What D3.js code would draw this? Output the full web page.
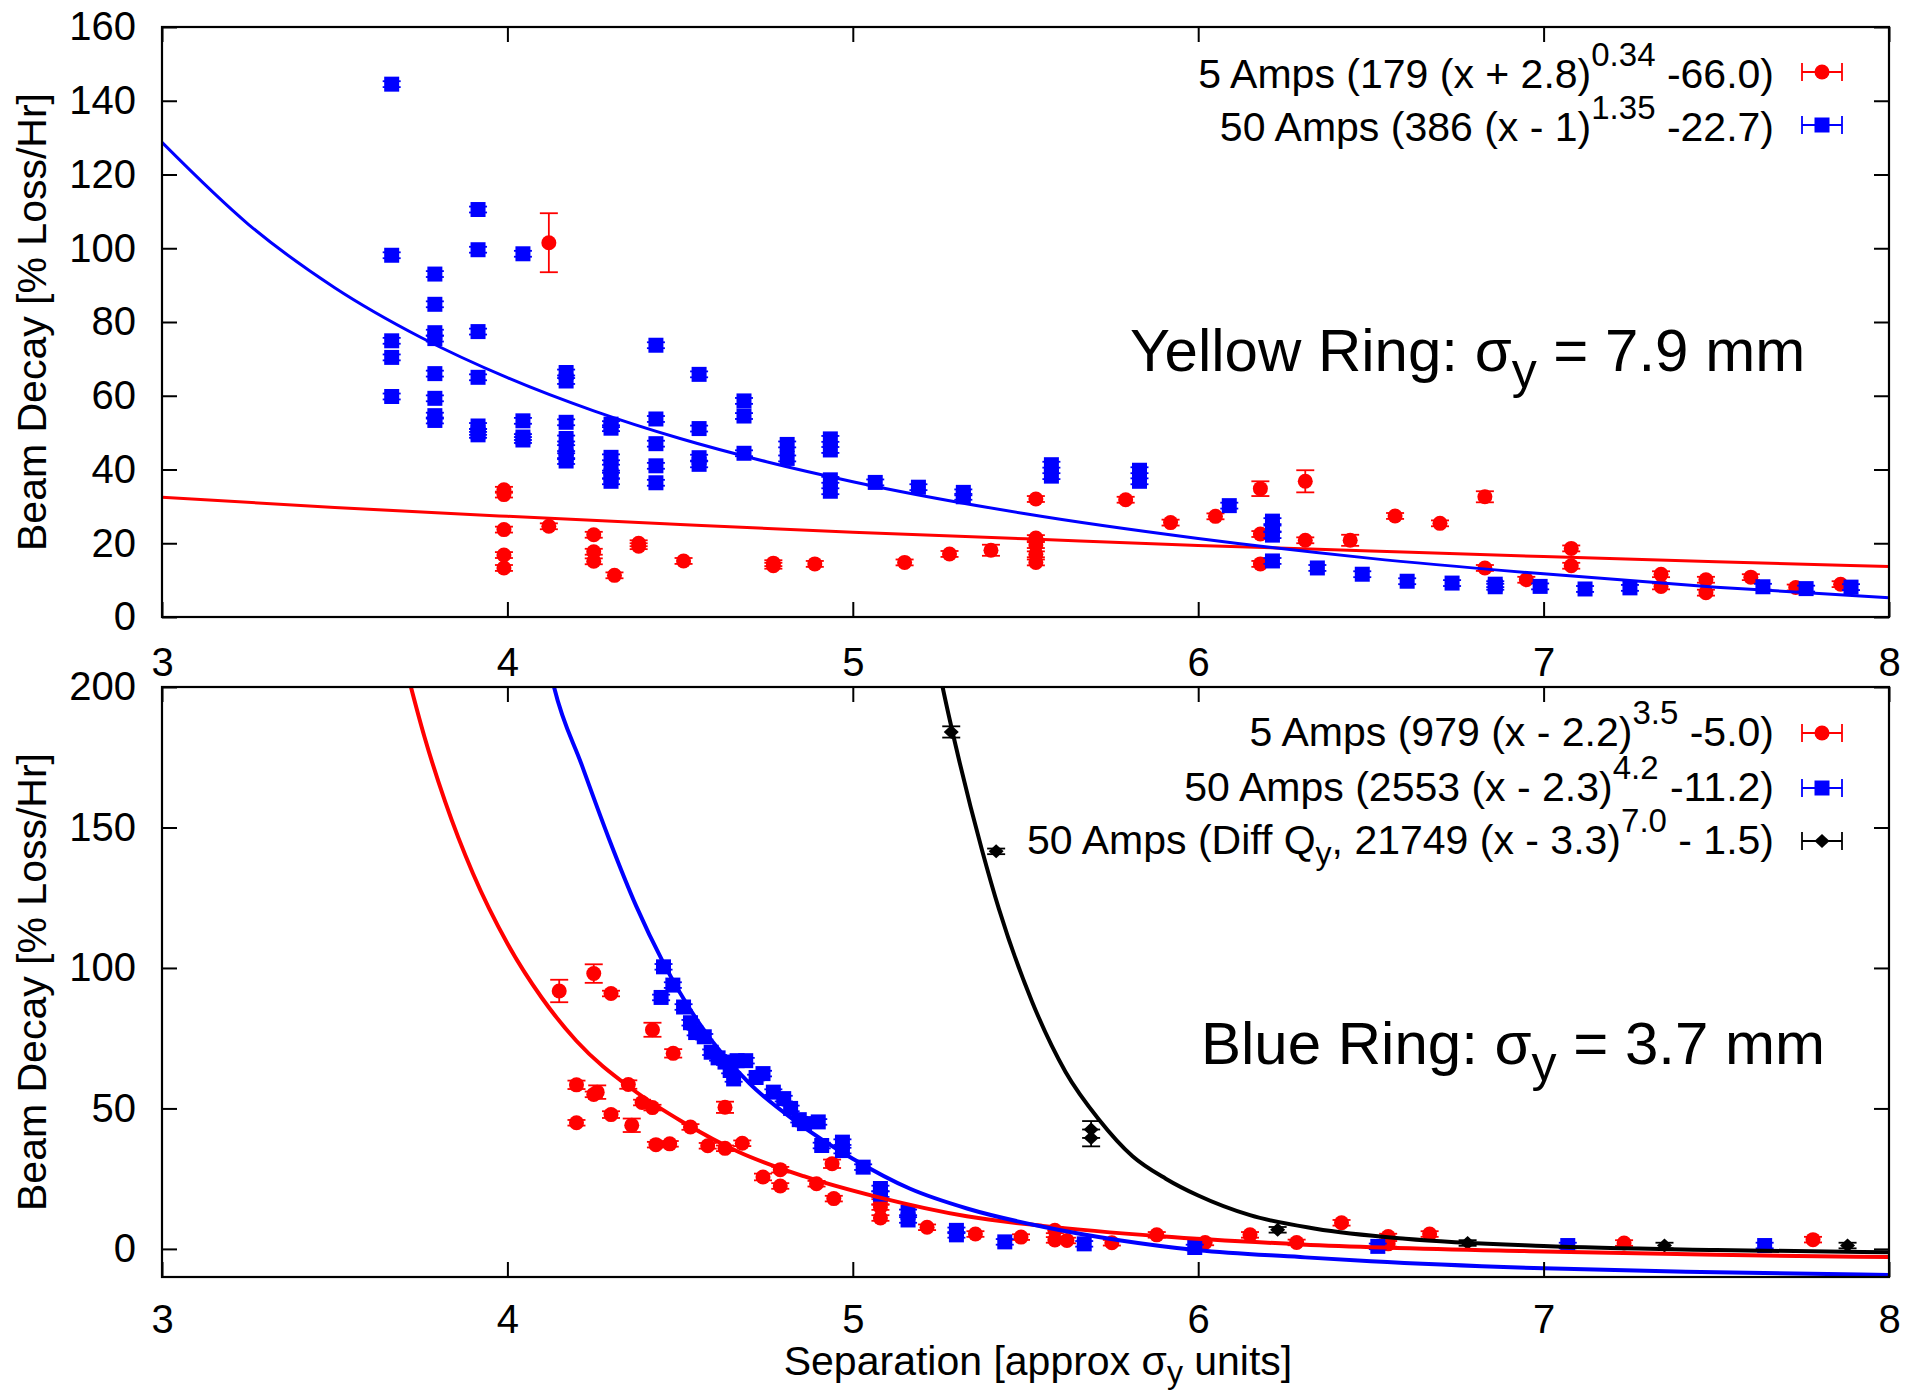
<!DOCTYPE html>
<html><head><meta charset="utf-8">
<script src="https://cdn.jsdelivr.net/npm/d3@7"></script>
<style>
body{margin:0;background:#fff}
text{font-family:"Liberation Sans",Arial,Helvetica,sans-serif;fill:#000}
</style>
</head><body>
<svg id="chart" width="1907" height="1392"></svg>
<script>
// ---------------- data ----------------
const xTicks = [3, 4, 5, 6, 7, 8];
const yTicksYellow = [0, 20, 40, 60, 80, 100, 120, 140, 160];
const yTicksBlue = [0, 50, 100, 150, 200];

// Yellow ring, 5 Amps: [separation, decay, yErr]
const yellow5A = [
  [3.99,34.5],[3.99,33.2],[3.99,23.7],[3.99,16.8],[3.99,13.3],
  [4.12,101.5,8],[4.12,24.6],
  [4.25,22.3],[4.25,17.7],[4.25,15.1],[4.31,11.3],[4.38,20.0],[4.38,19.2],
  [4.51,15.2],[4.77,14.6],[4.77,13.9],[4.89,14.4],[5.15,14.8],[5.28,17.1],[5.40,18.1,1.5],
  [5.53,32.0],[5.53,21.4],[5.53,19.5],[5.53,17.0],[5.53,14.8],
  [5.79,31.8],[5.92,25.6],[6.05,27.3],
  [6.18,34.8,2],[6.18,22.5],[6.18,14.4],[6.31,36.8,3],[6.31,20.8],[6.44,20.8,1.5],
  [6.57,27.4],[6.70,25.4],[6.83,32.6,1.5],[6.83,13.3],[6.95,10.1],
  [7.08,18.6],[7.08,13.9],[7.34,11.6],[7.34,8.3],[7.47,10.1],[7.47,6.6],
  [7.60,10.8],[7.73,8.0],[7.86,8.9]
];
// Yellow ring, 50 Amps
const yellow50A = [
  [3.665,144.5],[3.665,98.1],[3.665,74.9],[3.665,70.4],[3.665,59.8],
  [3.79,93.0],[3.79,84.8],[3.79,77.1],[3.79,75.5],[3.79,66.0],[3.79,59.3],[3.79,54.6],[3.79,53.3],
  [3.915,110.5],[3.915,99.6],[3.915,77.4],[3.915,65.0],[3.915,51.8],[3.915,50.2],[3.915,49.4],
  [4.045,98.5],[4.045,53.2],[4.045,48.8],[4.045,48.0],
  [4.17,66.3],[4.17,64.0],[4.17,52.8],[4.17,48.4],[4.17,45.8],[4.17,43.6],[4.17,42.3],
  [4.30,52.3],[4.30,51.2],[4.30,43.3],[4.30,40.5],[4.30,38.3],[4.30,36.8],
  [4.43,73.7],[4.43,53.7],[4.43,47.0],[4.43,41.0],[4.43,36.4],
  [4.555,65.8],[4.555,51.1],[4.555,43.2],[4.555,41.4],
  [4.685,58.6],[4.685,54.5],[4.685,44.4],[4.81,46.8],[4.81,43.0],
  [4.935,48.3],[4.935,45.3],[4.935,37.2],[4.935,34.1],
  [5.065,36.5],[5.19,35.2],[5.32,33.8],[5.32,32.6],
  [5.575,41.3],[5.575,38.2],[5.83,39.8],[5.83,36.8],
  [6.09,30.2],[6.215,26.0],[6.215,24.0],[6.215,22.2],[6.215,15.2],
  [6.345,13.3],[6.475,11.6],[6.605,9.7],[6.735,9.2],[6.86,8.9],[6.86,8.2],
  [6.99,8.3],[7.12,7.6],[7.25,7.9],[7.635,8.2],[7.76,7.7],[7.89,8.1]
];
// Yellow ring fit curves
const yellowFit5A = [[3,32.5],[3.5,29.7],[4,27.3],[4.5,25.1],[5,23.0],[5.5,21.2],[6,19.4],[6.5,17.9],[7,16.4],[7.5,15.0],[8,13.7]];
const yellowFit50A = [[3,128.7],[3.25,106.5],[3.5,89.3],[3.75,75.8],[4,64.9],[4.25,55.9],[4.5,48.4],[4.75,42.1],[5,36.7],[5.5,28.0],[6,21.3],[6.5,15.9],[7,11.7],[7.5,8.1],[8,5.2]];

// Blue ring, 5 Amps
const blue5A = [
  [4.15,91.8,4],[4.20,58.4,1.5],[4.20,44.9],[4.25,98.0,3.3],[4.26,55.8,2.4],[4.25,55.0],
  [4.30,90.9],[4.30,47.8,1.2],[4.35,58.5,1.5],[4.36,44.0,2.4],[4.39,52.1],[4.42,78.0,2.5],
  [4.42,50.3],[4.43,37.1],[4.47,37.4],[4.48,69.6,1.5],[4.53,43.4],[4.58,36.7],[4.63,50.4,2],
  [4.63,35.8],[4.68,37.6],[4.74,25.6,1.2],[4.79,28.2],[4.79,22.4],[4.895,23.2],[4.94,30.3,1.5],
  [4.945,17.9],[5.08,16.7],[5.08,14.9],[5.08,11.0],[5.215,7.7],[5.355,5.3],[5.487,4.2],
  [5.585,6.6],[5.585,3.2],[5.62,3.0],[5.75,2.2],[5.88,5.0],[6.02,2.3],[6.15,5.0],[6.285,2.3],
  [6.415,9.3],[6.55,4.4],[6.55,1.8],[6.67,5.3],[7.233,2.1],[7.78,3.3]
];
// Blue ring, 50 Amps
const blue50A = [
  [4.445,89.5],[4.452,100.4],[4.479,93.9],[4.51,86.1],[4.53,80.5],[4.545,77.0],[4.57,75.5],
  [4.59,70.0],[4.61,68.0],[4.63,66.5],[4.645,63.5],[4.655,60.5],[4.665,67.0],[4.69,67.0],
  [4.72,61.0],[4.74,62.4],[4.77,55.8],[4.80,53.5],[4.82,50.0],[4.845,46.0],[4.86,44.6],
  [4.90,45.2],[4.91,36.8],[4.97,38.0],[4.97,35.0],[5.03,29.1],[5.08,21.5],[5.08,19.5],
  [5.16,13.0],[5.16,10.3],[5.30,6.6],[5.30,5.0],[5.44,2.5],[5.67,1.8],[5.99,0.5],
  [6.52,0.9],[7.07,1.2],[7.64,1.2]
];
// Blue ring, 50 Amps, different Qy
const blueDiffQ = [
  [5.285,184.0,2],[5.415,141.5],[5.69,42.5,3],[5.69,39.5,3],[6.23,6.8],[6.78,2.1],[7.35,1.2],[7.88,1.2]
];
// Blue ring fit curves
const blueFit5A = [[3.70,209.8],[3.76,182.2],[3.82,159.1],[3.90,133.7],[4.00,108.7],[4.10,89.3],[4.20,74.0],[4.36,57.0],[4.51,45.0],[4.67,34.5],[4.86,25.8],[5.07,18.5],[5.33,11.6],[5.55,8.2],[5.89,4.5],[6.30,1.6],[7.00,-0.9],[7.50,-2.1],[8.00,-2.9]];
const blueFit50A = [[4.12,208],[4.135,200],[4.216,172],[4.294,146],[4.373,122],[4.451,102],[4.557,80],[4.70,59],[4.834,45.5],[5.0,32.1],[5.166,21.4],[5.333,14.3],[5.554,7.8],[5.776,3.0],[6.0,-0.5],[6.295,-2.9],[6.5,-4.4],[7.0,-6.9],[7.5,-8.3],[8.0,-9.3]];
const blueFitDiffQ = [[5.25,206],[5.26,200],[5.30,178],[5.374,142],[5.423,121],[5.519,88],[5.616,63],[5.713,46],[5.81,33],[5.906,25],[6.0,19],[6.15,12],[6.34,7.2],[6.6,3.6],[7.0,1.0],[7.5,-0.4],[8.0,-1.2]];

// legend entries: [text before sup, superscript, text after]
const yellowLegend = [
  {pre:"5 Amps (179 (x + 2.8)", sup:"0.34", post:" -66.0)", color:"#ff0000", shape:"circle"},
  {pre:"50 Amps (386 (x - 1)", sup:"1.35", post:" -22.7)", color:"#0000ff", shape:"square"}
];
const blueLegend = [
  {pre:"5 Amps (979 (x - 2.2)", sup:"3.5", post:" -5.0)", color:"#ff0000", shape:"circle"},
  {pre:"50 Amps (2553 (x - 2.3)", sup:"4.2", post:" -11.2)", color:"#0000ff", shape:"square"},
  {pre:"50 Amps (Diff Q", sub:"y", mid:", 21749 (x - 3.3)", sup:"7.0", post:" - 1.5)", color:"#000000", shape:"diamond"}
];

// ---------------- drawing ----------------
const svg = d3.select("#chart");
const FS = 40, FSL = 41;
const L = 162, R = 1889;
const x = d3.scaleLinear().domain([3, 8]).range([L, R]);

function markerPath(shape) {
  if (shape === "circle") return d3.symbol(d3.symbolCircle, Math.PI * 7.5 * 7.5)();
  if (shape === "square") return d3.symbol(d3.symbolSquare, 15 * 15)();
  return "M0,-7L7.5,0L0,7L-7.5,0Z";
}

function drawPoints(g, data, y, shape, color, defErr) {
  const s = g.append("g");
  const pts = s.selectAll("g.pt").data(data).join("g").attr("class", "pt")
    .attr("transform", d => `translate(${x(d[0])},0)`);
  const lo = d => y(d[1] - (d[2] ?? defErr)), hi = d => y(d[1] + (d[2] ?? defErr));
  pts.append("line").attr("y1", lo).attr("y2", hi)
    .attr("stroke", color).attr("stroke-width", 1.8);
  pts.append("line").attr("x1", -9).attr("x2", 9).attr("y1", lo).attr("y2", lo)
    .attr("stroke", color).attr("stroke-width", 1.8);
  pts.append("line").attr("x1", -9).attr("x2", 9).attr("y1", hi).attr("y2", hi)
    .attr("stroke", color).attr("stroke-width", 1.8);
  pts.append("path").attr("d", markerPath(shape))
    .attr("transform", d => `translate(0,${y(d[1])})`).attr("fill", color);
}

function drawFit(g, data, y, color, clipId, w) {
  const line = d3.line().x(d => x(d[0])).y(d => y(d[1])).curve(d3.curveMonotoneX);
  g.append("path").datum(data).attr("d", line)
    .attr("fill", "none").attr("stroke", color).attr("stroke-width", w)
    .attr("clip-path", `url(#${clipId})`);
}

function drawFrame(g, y, top, bottom, yTicks, xLabelsTop, xLabelsBottom) {
  const tick = 15;
  const ax = (gen, tx, ty) => {
    const a = g.append("g").attr("transform", `translate(${tx},${ty})`).call(gen);
    a.select(".domain").remove();
    a.selectAll(".tick line").attr("stroke", "#000").attr("stroke-width", 2);
    a.selectAll("text").attr("font-size", FS).attr("font-family", "Liberation Sans, Arial, sans-serif").attr("fill", "#000");
    return a;
  };
  ax(d3.axisLeft(y).tickValues(yTicks).tickSize(-tick).tickPadding(26), L, 0);
  ax(d3.axisRight(y).tickValues(yTicks).tickSize(-tick).tickFormat(""), R, 0);
  ax(d3.axisBottom(x).tickValues(xTicks).tickSize(-tick).tickPadding(28).tickFormat(xLabelsBottom ? d3.format("d") : ""), 0, bottom);
  ax(d3.axisTop(x).tickValues(xTicks).tickSize(-tick).tickPadding(11).tickFormat(xLabelsTop ? d3.format("d") : ""), 0, top);
  g.append("rect").attr("x", L).attr("y", top).attr("width", R - L).attr("height", bottom - top)
    .attr("fill", "none").attr("stroke", "#000").attr("stroke-width", 2.2);
}

function drawLegend(g, entries, baselines, sampleYs) {
  entries.forEach((e, i) => {
    const t = g.append("text").attr("x", 1774).attr("y", baselines[i])
      .attr("text-anchor", "end").attr("font-size", FSL);
    t.append("tspan").text(e.pre);
    if (e.sub) {
      t.append("tspan").attr("font-size", 32).attr("dy", 10).text(e.sub);
      t.append("tspan").attr("dy", -10).text(e.mid);
    }
    t.append("tspan").attr("font-size", 33).attr("dy", -22).text(e.sup);
    t.append("tspan").attr("dy", 22).text(e.post);
    const sy = sampleYs[i];
    const c = e.color;
    g.append("line").attr("x1", 1802).attr("x2", 1842).attr("y1", sy).attr("y2", sy).attr("stroke", c).attr("stroke-width", 1.8);
    g.append("line").attr("x1", 1802).attr("x2", 1802).attr("y1", sy - 9).attr("y2", sy + 9).attr("stroke", c).attr("stroke-width", 1.8);
    g.append("line").attr("x1", 1842).attr("x2", 1842).attr("y1", sy - 9).attr("y2", sy + 9).attr("stroke", c).attr("stroke-width", 1.8);
    g.append("path").attr("d", markerPath(e.shape)).attr("transform", `translate(1822,${sy})`).attr("fill", c);
  });
}

function bigLabel(g, xPos, yPos, pre, sub, post) {
  const t = g.append("text").attr("x", xPos).attr("y", yPos).attr("font-size", 60);
  t.append("tspan").text(pre);
  t.append("tspan").attr("font-size", 50).attr("dy", 17).text(sub);
  t.append("tspan").attr("dy", -17).text(post);
}

function yTitle(g, cy) {
  g.append("text").attr("transform", `translate(46,${cy}) rotate(-90)`)
    .attr("text-anchor", "middle").attr("font-size", FSL).text("Beam Decay [% Loss/Hr]");
}

const defs = svg.append("defs");

// ---- top panel: Yellow ring ----
{
  const top = 27, bottom = 617;
  const y = d3.scaleLinear().domain([0, 160]).range([bottom, top]);
  defs.append("clipPath").attr("id", "clipTop").append("rect")
    .attr("x", L).attr("y", top).attr("width", R - L).attr("height", bottom - top);
  const g = svg.append("g");
  drawPoints(g, yellow5A, y, "circle", "#ff0000", 0.8);
  drawPoints(g, yellow50A, y, "square", "#0000ff", 0.8);
  drawFit(g, yellowFit5A, y, "#ff0000", "clipTop", 3);
  drawFit(g, yellowFit50A, y, "#0000ff", "clipTop", 3);
  drawFrame(g, y, top, bottom, yTicksYellow, false, false);
  drawLegend(g, yellowLegend, [88, 141], [72, 125]);
  bigLabel(g, 1130, 371, "Yellow Ring: σ", "y", " = 7.9 mm");
  yTitle(g, (top + bottom) / 2);
}

// ---- bottom panel: Blue ring ----
{
  const top = 687, bottom = 1277;
  const y = d3.scaleLinear().domain([-10, 200]).range([bottom, top]);
  defs.append("clipPath").attr("id", "clipBot").append("rect")
    .attr("x", L).attr("y", top).attr("width", R - L).attr("height", bottom - top);
  const g = svg.append("g");
  drawPoints(g, blue5A, y, "circle", "#ff0000", 1);
  drawPoints(g, blue50A, y, "square", "#0000ff", 1);
  drawPoints(g, blueDiffQ, y, "diamond", "#000000", 1);
  drawFit(g, blueFit5A, y, "#ff0000", "clipBot", 4);
  drawFit(g, blueFit50A, y, "#0000ff", "clipBot", 4);
  drawFit(g, blueFitDiffQ, y, "#000000", "clipBot", 4);
  drawFrame(g, y, top, bottom, yTicksBlue, true, true);
  drawLegend(g, blueLegend, [746, 801, 854], [733, 788, 841]);
  bigLabel(g, 1201, 1064, "Blue Ring: σ", "y", " = 3.7 mm");
  yTitle(g, (top + bottom) / 2);
  const xl = g.append("text").attr("x", 1038).attr("y", 1375).attr("text-anchor", "middle").attr("font-size", FSL);
  xl.append("tspan").text("Separation [approx σ");
  xl.append("tspan").attr("font-size", 32).attr("dy", 8).text("y");
  xl.append("tspan").attr("dy", -8).text(" units]");
}
</script>
</body></html>
